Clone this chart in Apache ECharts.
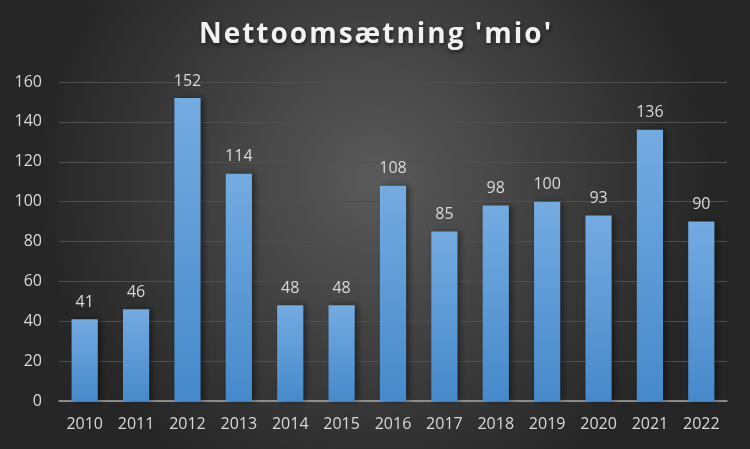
<!DOCTYPE html>
<html><head><meta charset="utf-8">
<script src="https://cdn.jsdelivr.net/npm/echarts@6/dist/echarts.min.js"></script>
<style>html,body{margin:0;padding:0;background:#333;}#c{width:750px;height:449px;}</style>
</head><body><div id="c"></div>
<script>
const titleText = "Nettoomsætning 'mio'";
const categories = ['2010','2011','2012','2013','2014','2015','2016','2017','2018','2019','2020','2021','2022'];
const values = [41,46,152,114,48,48,108,85,98,100,93,136,90];
const yTicks = {min:0, max:160, interval:20};

const chart = echarts.init(document.getElementById('c'));
const font = "'Open Sans', 'Noto Sans', sans-serif";
const titleFormatted = Array.from(titleText).map(ch => '{c|' + ch + '}').join('');
const titleStyle = {color:'#f2f2f2',fontSize:28,fontWeight:'bold',fontFamily:font,textShadowColor:'rgba(0,0,0,0.6)',textShadowBlur:4,textShadowOffsetX:1,textShadowOffsetY:2};
chart.setOption({
  animation:false,
  backgroundColor:{type:'radial',x:0.5,y:0.4,r:0.75,colorStops:[{offset:0,color:'#5a5a5a'},{offset:1,color:'#262626'}]},
  title:{text:titleFormatted,left:'center',top:16,textStyle:Object.assign({},titleStyle,{rich:{c:Object.assign({},titleStyle,{padding:[0,1,0,1]})}})},
  grid:{left:59,right:23,top:82,bottom:48,containLabel:false},
  xAxis:{type:'category',data:categories,
    axisLine:{lineStyle:{color:'#a6a6a6',width:1.5}},axisTick:{show:false},
    axisLabel:{color:'#d9d9d9',fontSize:16,fontFamily:font,margin:15}},
  yAxis:{type:'value',min:yTicks.min,max:yTicks.max,interval:yTicks.interval,
    axisLine:{show:false},axisTick:{show:false},
    splitLine:{lineStyle:{color:'#505050',width:1}},
    axisLabel:{color:'#d9d9d9',fontSize:16,fontFamily:font,margin:17}},
  series:[{type:'bar',data:values,barCategoryGap:'49%',
    itemStyle:{color:{type:'linear',x:0,y:0,x2:0,y2:1,colorStops:[{offset:0,color:'#74abe1'},{offset:1,color:'#4689cb'}]},
      shadowColor:'rgba(0,0,0,0.45)',shadowBlur:6,shadowOffsetX:3,shadowOffsetY:0},
    label:{show:true,position:'top',distance:9,color:'#d9d9d9',fontSize:16,fontFamily:font}}]
});
</script></body></html>
